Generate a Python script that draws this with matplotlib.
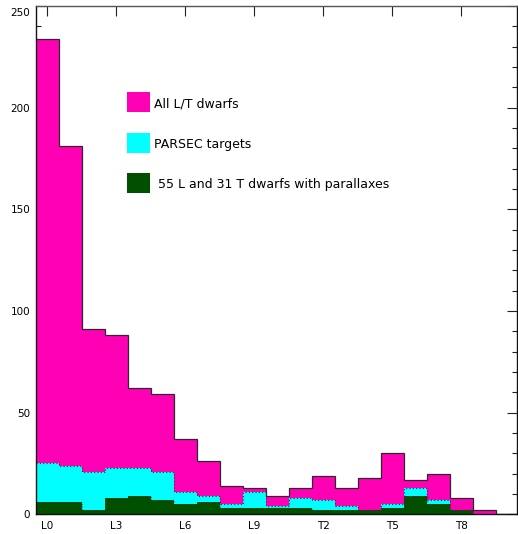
import matplotlib
matplotlib.use("Agg")
import matplotlib.pyplot as plt
import matplotlib.transforms as mtransforms
from matplotlib.patches import Rectangle
import numpy as np

# Spectral subtype index: L0..L9 = 0..9, T0..T9 = 10..19
subtypes = list(range(21))
all_lt = [234, 181, 91, 88, 62, 59, 37, 26, 14, 13,
          9, 13, 19, 13, 18, 30, 17, 20, 8, 2, 0]
parsec = [25, 24, 21, 23, 23, 21, 11, 9, 5, 11,
          4, 8, 7, 4, 2, 5, 13, 7, 2, 0, 0]
parallax = [6, 6, 2, 8, 9, 7, 5, 6, 3, 3,
            3, 3, 2, 2, 2, 3, 9, 5, 2, 0, 0]
tick_pos = [0, 3, 6, 9, 12, 15, 18]
tick_labels = ["L0", "L3", "L6", "L9", "T2", "T5", "T8"]
legend_labels = ["All L/T dwarfs", "PARSEC targets",
                 " 55 L and 31 T dwarfs with parallaxes"]

PINK = "#FF00B4"
CYAN = "#00FFFF"
GREEN = "#005000"

fig = plt.figure(figsize=(5.18, 5.34), dpi=100)
ax = fig.add_axes([35.7 / 518, 1 - 514.3 / 534, (516.7 - 35.7) / 518, (514.3 - 6) / 534])

x = np.array(subtypes)
ax.bar(x, all_lt, width=1.0, color=PINK, linewidth=0, zorder=1)
ax.bar(x, parsec, width=1.0, color=CYAN, linewidth=0, zorder=1.1)
ax.bar(x, parallax, width=1.0, color=GREEN, linewidth=0, zorder=1.2)

edges = np.arange(-0.5, len(subtypes) + 0.5, 1.0)
ax.stairs(all_lt, edges, baseline=None, color="#2a2a2a", linewidth=0.9, zorder=2)
ax.stairs(parsec, edges, baseline=None, color="#333333", linewidth=0.8,
          linestyle=(0, (1, 2)), zorder=2)
ax.stairs(parallax, edges, baseline=None, color="#333333", linewidth=0.6,
          linestyle=(0, (1, 2)), zorder=2)

ax.set_xlim(-0.5, 20.42)
ax.set_ylim(0, 250)
ax.set_axisbelow(True)

ax.set_xticks(tick_pos)
ax.set_xticklabels(tick_labels)
ax.set_yticks([0, 50, 100, 150, 200, 250])
ax.set_yticks(np.arange(0, 251, 10), minor=True)
ax.tick_params(axis="both", which="major", direction="in", length=7, width=0.8,
               labelsize=7.5, top=True, right=True, color="#222222")
ax.tick_params(axis="y", which="minor", direction="in", length=3.5, width=0.8,
               left=True, right=True, color="#222222")
ax.tick_params(axis="y", which="major", pad=4)
ax.tick_params(axis="x", which="major", pad=5)

for s in ax.spines.values():
    s.set_linewidth(1.0)
    s.set_color("#111111")
ax.spines["top"].set_color("#555555")

# shift top y label down slightly as in the reference
labs = ax.get_yticklabels()
off = mtransforms.ScaledTranslation(0, -6 / 100, fig.dpi_scale_trans)
labs[-1].set_transform(labs[-1].get_transform() + off)

# manual legend
colors = [PINK, CYAN, GREEN]
sq_tops = [0.8308, 0.7501, 0.6715]
sq_h = 0.040
for c, top, lab in zip(colors, sq_tops, legend_labels):
    ax.add_patch(Rectangle((0.1898, top - sq_h), 0.0478, sq_h, transform=ax.transAxes,
                           facecolor=c, edgecolor="none", zorder=3))
    ax.text(0.2466, top - sq_h / 2 - 0.003, lab, transform=ax.transAxes,
            fontsize=9, va="center", ha="left", zorder=3)

fig.savefig("out.png", dpi=100)
